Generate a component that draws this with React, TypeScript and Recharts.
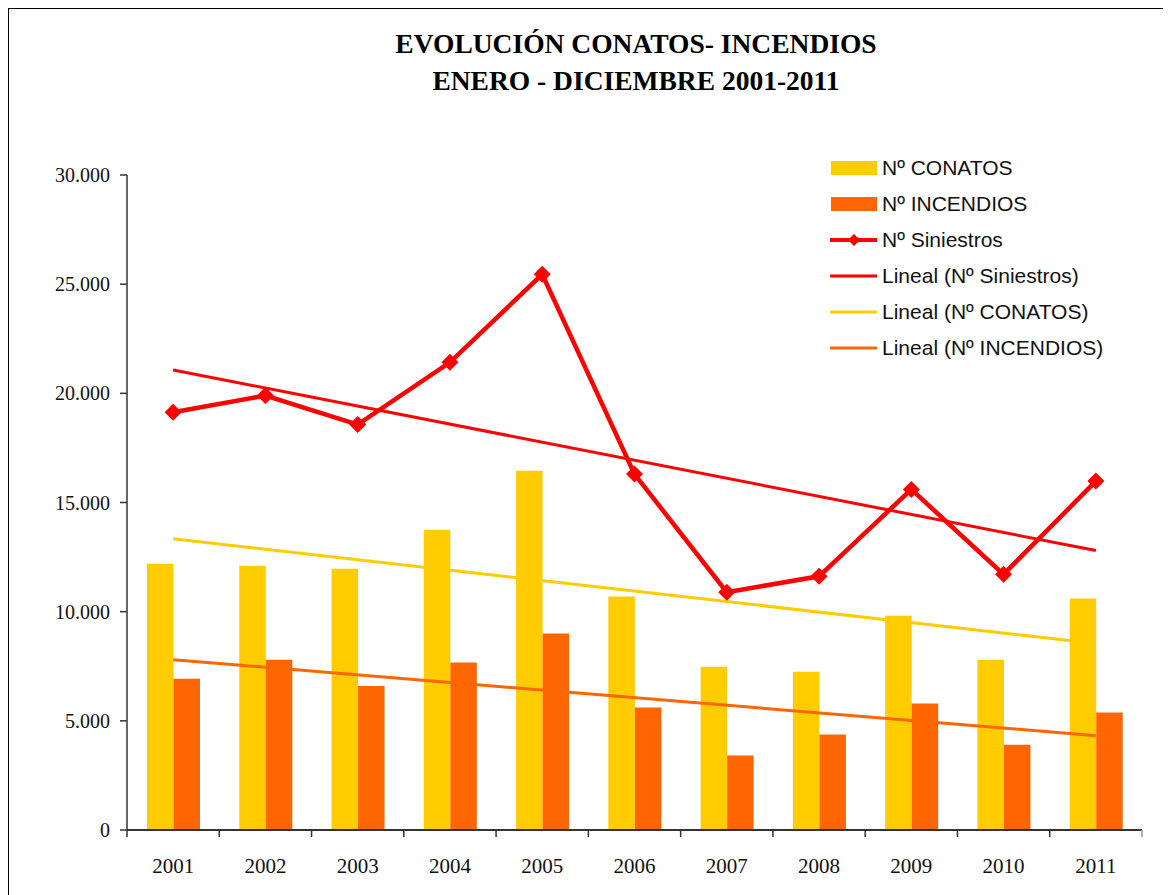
import { ComposedChart, Bar, Line, XAxis, YAxis, Legend } from 'recharts';

const years = ['2001', '2002', '2003', '2004', '2005', '2006', '2007', '2008', '2009', '2010', '2011'];
const conatos = [12200, 12100, 11970, 13750, 16450, 10690, 7480, 7250, 9810, 7800, 10600];
const incendios = [6930, 7800, 6600, 7670, 9000, 5610, 3410, 4370, 5790, 3910, 5380];
const siniestros = [19130, 19900, 18570, 21420, 25450, 16300, 10890, 11620, 15600, 11710, 15980];
// trend lines: only the end points, joined straight
const trendSiniestros = [21070, null, null, null, null, null, null, null, null, null, 12800];
const trendConatos = [13340, null, null, null, null, null, null, null, null, null, 8540];
const trendIncendios = [7800, null, null, null, null, null, null, null, null, null, 4320];
const yTicks = [0, 5000, 10000, 15000, 20000, 25000, 30000];

const data = years.map((year, i) => ({
  year,
  conatos: conatos[i],
  incendios: incendios[i],
  siniestros: siniestros[i],
  tSin: trendSiniestros[i],
  tCon: trendConatos[i],
  tInc: trendIncendios[i],
}));

const YELLOW = '#FFCC00';
const ORANGE = '#FF6600';
const RED = '#FF0000';
const SERIF = '"Liberation Serif", "DejaVu Serif", serif';
const SANS = '"Liberation Sans", Arial, sans-serif';

const W = 1159;
const H = 880;
const PLOT_LEFT = 118;
const PLOT_RIGHT = 1133;
const BAND = (PLOT_RIGHT - PLOT_LEFT) / years.length;

const fmt = (v: number) => String(v).replace(/\B(?=(\d{3})+(?!\d))/g, '.');

function Diamond(props: any) {
  const { cx, cy } = props;
  if (cx == null || cy == null) return null;
  const r = 8.5;
  return <polygon points={`${cx},${cy - r} ${cx + r},${cy} ${cx},${cy + r} ${cx - r},${cy}`} fill={RED} />;
}

function YearTick(props: any) {
  const { x, y, payload, index } = props;
  const left = x - BAND / 2;
  return (
    <g>
      <line x1={left} x2={left} y1={y} y2={y + 7} stroke="#333" strokeWidth={1.5} />
      {index === years.length - 1 && (
        <line x1={x + BAND / 2} x2={x + BAND / 2} y1={y} y2={y + 7} stroke="#999" strokeWidth={1.5} />
      )}
      <text x={x} y={y + 43} textAnchor="middle" fontSize={21} fontFamily={SERIF} fill="#111">
        {payload.value}
      </text>
    </g>
  );
}

const legendItems = [
  { label: 'Nº CONATOS', kind: 'rect', color: YELLOW },
  { label: 'Nº INCENDIOS', kind: 'rect', color: ORANGE },
  { label: 'Nº Siniestros', kind: 'marker', color: RED },
  { label: 'Lineal (Nº Siniestros)', kind: 'line', color: RED },
  { label: 'Lineal (Nº CONATOS)', kind: 'line', color: YELLOW },
  { label: 'Lineal (Nº INCENDIOS)', kind: 'line', color: ORANGE },
];

function LegendBox() {
  return (
    <div style={{ background: '#fff', paddingLeft: 8, paddingBottom: 10 }}>
      {legendItems.map((it) => (
        <div key={it.label} style={{ display: 'flex', alignItems: 'center', height: 36 }}>
          <svg width={47} height={20} style={{ marginRight: 5 }}>
            {it.kind === 'rect' && <rect x={1} y={3} width={46} height={14} fill={it.color} />}
            {it.kind === 'marker' && (
              <g>
                <line x1={1} x2={47} y1={10} y2={10} stroke={it.color} strokeWidth={4} strokeLinecap="round" />
                <polygon points="24,4 30,10 24,16 18,10" fill={it.color} />
              </g>
            )}
            {it.kind === 'line' && (
              <line x1={1} x2={47} y1={10} y2={10} stroke={it.color} strokeWidth={3} strokeLinecap="round" />
            )}
          </svg>
          <span style={{ fontFamily: SANS, fontSize: 21, color: '#111', whiteSpace: 'nowrap' }}>{it.label}</span>
        </div>
      ))}
    </div>
  );
}

export default function App() {
  return (
    <div
      style={{
        position: 'relative',
        width: 1161,
        height: 900,
        border: '1px solid #000',
        boxSizing: 'border-box',
        background: '#fff',
      }}
    >
      <div
        style={{
          position: 'absolute',
          left: 327,
          top: 16,
          width: 600,
          textAlign: 'center',
          fontFamily: SERIF,
          fontWeight: 'bold',
          fontSize: 27.5,
          lineHeight: '37px',
          color: '#000',
          zIndex: 2,
        }}
      >
        <div>EVOLUCIÓN CONATOS- INCENDIOS</div>
        <div>ENERO - DICIEMBRE 2001-2011</div>
      </div>
      <div style={{ position: 'absolute', left: 0, top: 0 }}>
        <ComposedChart
          width={W}
          height={H}
          data={data}
          margin={{ top: 166, right: W - PLOT_RIGHT, bottom: 19, left: 0 }}
          barGap={0}
        >
          <XAxis
            dataKey="year"
            interval={0}
            tickLine={false}
            tickSize={0}
            tickMargin={0}
            height={40}
            axisLine={{ stroke: '#333', strokeWidth: 2 }}
            tick={<YearTick />}
          />
          <XAxis
            xAxisId="top"
            orientation="top"
            dataKey="year"
            height={0}
            tick={false}
            tickLine={false}
            axisLine={{ stroke: '#999', strokeWidth: 1.5 }}
          />
          <YAxis
            width={PLOT_LEFT}
            domain={[0, 30000]}
            ticks={yTicks}
            interval={0}
            tickSize={7}
            tickMargin={10}
            tickFormatter={fmt}
            tickLine={{ stroke: '#333', strokeWidth: 1.5 }}
            axisLine={{ stroke: '#333', strokeWidth: 1.5 }}
            tick={{ fontSize: 20, fontFamily: SERIF, fill: '#111' }}
          />
          <YAxis
            yAxisId="right"
            orientation="right"
            width={0}
            domain={[0, 30000]}
            tick={false}
            tickLine={false}
            axisLine={{ stroke: '#999', strokeWidth: 1.5 }}
          />
          <Legend
            layout="vertical"
            align="center"
            verticalAlign="middle"
            content={() => <LegendBox />}
            wrapperStyle={{ left: 813, top: 141, width: 289 }}
          />
          <Bar dataKey="conatos" name="Nº CONATOS" fill={YELLOW} barSize={26.5} isAnimationActive={false} />
          <Bar dataKey="incendios" name="Nº INCENDIOS" fill={ORANGE} barSize={26.5} isAnimationActive={false} />
          <Line
            dataKey="siniestros"
            name="Nº Siniestros"
            stroke={RED}
            strokeWidth={4.5}
            dot={<Diamond />}
            activeDot={false}
            isAnimationActive={false}
          />
          <Line dataKey="tSin" stroke={RED} strokeWidth={3} dot={false} connectNulls isAnimationActive={false} />
          <Line dataKey="tCon" stroke={YELLOW} strokeWidth={3} dot={false} connectNulls isAnimationActive={false} />
          <Line dataKey="tInc" stroke={ORANGE} strokeWidth={3} dot={false} connectNulls isAnimationActive={false} />
        </ComposedChart>
      </div>
    </div>
  );
}
